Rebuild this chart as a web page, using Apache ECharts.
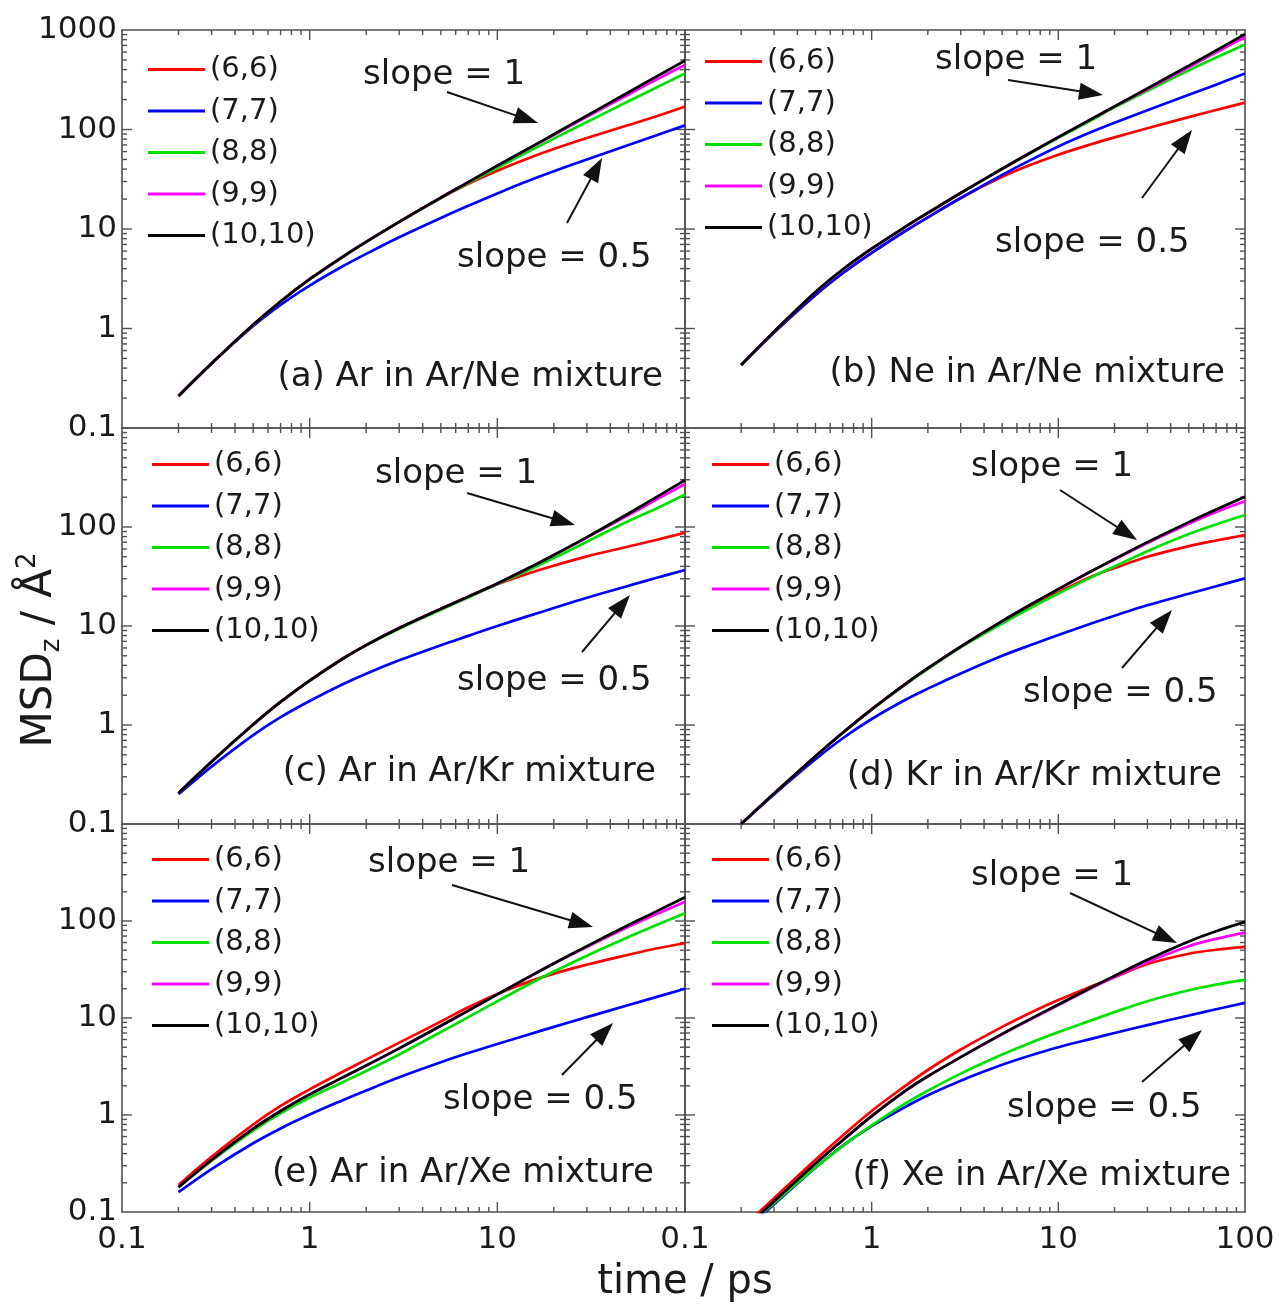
<!DOCTYPE html>
<html><head><meta charset="utf-8">
<script src="https://cdn.jsdelivr.net/npm/echarts@6/dist/echarts.min.js"></script>
<style>html,body{margin:0;padding:0;background:#fff}#c{width:1279px;height:1307px}</style>
</head><body><div id="c"></div>
<script>
// ---- data ----
const time = [0.2,0.3,0.5,0.7,1,1.5,2,3,5,7,10,15,20,30,50,70,100];
const seriesNames = ['(6,6)','(7,7)','(8,8)','(9,9)','(10,10)'];
const seriesColors = ['#ff0000','#0000ff','#00e000','#ff00ff','#000000'];

// (a) Ar in Ar/Ne
const a66   = [0.21,0.445,1.09,1.87,3.13,5.26,7.43,11.8,20.5,28.5,38.6,52.4,63.7,82,111,135,170];
const a77   = [0.21,0.445,1.06,1.73,2.70,4.22,5.62,8.26,12.9,17.1,22.8,31,38,50,70,87,110];
const a88   = [0.21,0.445,1.09,1.87,3.13,5.26,7.43,11.8,20.5,28.9,41.3,61.4,80.9,119,192,263,365];
const a99   = [0.21,0.445,1.09,1.87,3.13,5.26,7.43,11.8,20.7,29.6,43.3,65.5,88,134,225,315,446];
const a1010 = [0.21,0.445,1.09,1.87,3.13,5.26,7.43,11.8,20.7,29.6,43.3,66.2,89.5,138,237,338,493];
// (b) Ne in Ar/Ne
const b66   = [0.43,0.91,2.17,3.59,5.75,9.44,13.1,20.5,33.4,43.7,55.8,71.1,83.3,103,133,157,186];
const b77   = [0.43,0.91,2.17,3.59,5.75,9.44,13.1,20.5,35,48.7,67.6,94.3,117,156,223,282,365];
const b88   = [0.43,0.93,2.33,3.92,6.34,10.4,14.5,23.0,40,57,82.5,124,167,245,393,528,714];
const b99   = [0.43,0.93,2.33,3.92,6.34,10.4,14.5,23.0,40.3,57.7,83.9,127,170,254,422,595,850];
const b1010 = [0.43,0.93,2.33,3.92,6.34,10.4,14.5,23.0,40.3,57.7,83.9,127,171,259,438,622,910];
// (c) Ar in Ar/Kr
const c66   = [0.205,0.426,1.01,1.71,2.81,4.67,6.41,9.53,14.9,19.8,26.4,34.5,40.7,50.5,63.5,74,87.5];
const c77   = [0.2,0.38,0.79,1.2,1.75,2.58,3.3,4.5,6.4,7.95,10,12.8,15.2,19.3,25.5,30.5,36.8];
const c88   = [0.205,0.426,1.01,1.71,2.81,4.67,6.38,9.4,14.6,19.4,26.5,37.5,48.5,71,115,153,213];
const c99   = [0.205,0.426,1.01,1.71,2.81,4.67,6.41,9.53,14.9,19.8,26.9,39.3,52.1,78,132,188,272];
const c1010 = [0.205,0.426,1.01,1.71,2.81,4.67,6.41,9.53,14.9,19.8,26.9,39.3,52.1,79,137,199,297];
// (d) Kr in Ar/Kr
const d66   = [0.1,0.203,0.484,0.835,1.44,2.56,3.72,6.15,10.9,15.6,22,31.5,38.5,50,64,73,83];
const d77   = [0.1,0.199,0.451,0.735,1.15,1.78,2.33,3.32,5.0,6.36,8.1,10.6,12.7,16.2,21.2,25.2,30.3];
const d88   = [0.1,0.203,0.484,0.835,1.43,2.52,3.68,6.1,10.6,15,21.3,31,40,57,85,106,132];
const d99   = [0.1,0.203,0.484,0.835,1.44,2.56,3.75,6.2,11.2,16.2,23.6,35.7,47,69,108,142,182];
const d1010 = [0.1,0.203,0.484,0.835,1.44,2.56,3.75,6.2,11.2,16.2,23.6,35.7,47.5,70.3,112,150,202];
// (e) Ar in Ar/Xe
const e66   = [0.19,0.371,0.798,1.24,1.84,2.79,3.72,5.57,9.19,12.9,17.7,24,28.7,35.5,44.9,52,59];
const e77   = [0.16,0.277,0.511,0.727,1.01,1.42,1.79,2.45,3.5,4.35,5.4,6.85,8.1,10.2,13.6,16.4,20];
const e88   = [0.18,0.337,0.69,1.04,1.51,2.18,2.84,4.21,7.17,10.2,14.9,22.7,30.1,43.9,68.4,90.4,120];
const e99   = [0.18,0.344,0.722,1.1,1.63,2.44,3.24,4.86,8.31,11.9,17.5,27,36.5,54,87,117,158];
const e1010 = [0.18,0.344,0.722,1.1,1.63,2.44,3.24,4.86,8.31,11.9,17.5,27,36.5,55.1,91,125,176];
// (f) Xe in Ar/Xe
const f66   = [0.067,0.139,0.345,0.614,1.1,1.97,2.91,4.73,8.09,11.2,15.3,21.2,26.4,36,46,50.5,54];
const f77   = [0.059,0.12,0.286,0.483,0.767,1.2,1.6,2.26,3.29,4.08,5.0,6.1,7.0,8.45,10.6,12.3,14.3];
const f88   = [0.061,0.124,0.288,0.478,0.78,1.3,1.78,2.67,4.2,5.5,7.15,9.45,11.5,14.9,19.3,22.1,24.7];
const f99   = [0.062,0.129,0.316,0.55,0.974,1.75,2.51,3.95,6.8,9.55,13.6,20.3,26.5,37.8,55,65.5,76];
const f1010 = [0.062,0.129,0.316,0.55,0.974,1.75,2.51,3.95,6.86,9.69,13.8,20.6,27.2,39.9,61.6,78.5,98];

const panelTitles = ['(a) Ar in Ar/Ne mixture','(b) Ne in Ar/Ne mixture','(c) Ar in Ar/Kr mixture',
                     '(d) Kr in Ar/Kr mixture','(e) Ar in Ar/Xe mixture','(f) Xe in Ar/Xe mixture'];
const panelData = [[a66,a77,a88,a99,a1010],[b66,b77,b88,b99,b1010],[c66,c77,c88,c99,c1010],
                   [d66,d77,d88,d99,d1010],[e66,e77,e88,e99,e1010],[f66,f77,f88,f99,f1010]];

// tick values
const xMajorInner = [1,10];
const yMajorInner = [1,10,100];
const xMinor = [0.2,0.3,0.4,0.5,0.6,0.7,0.8,0.9,2,3,4,5,6,7,8,9,20,30,40,50,60,70,80,90];
const yMinor = xMinor.concat([200,300,400,500,600,700,800,900]);
const yLabelsTop = [0.1,1,10,100,1000];
const yLabelsLow = [0.1,1,10,100];
const xLabelsLeft = [0.1,1,10];
const xLabelsRight = [0.1,1,10,100];

// ---- layout ----
const FONT = '"DejaVu Sans", sans-serif';
const AX = '#505050';
const TXT = '#1a1a1a';
const grids = [
  {left:122, top:30,  width:563, height:398},
  {left:685, top:30,  width:560, height:398},
  {left:122, top:428, width:563, height:396},
  {left:685, top:428, width:560, height:396},
  {left:122, top:824, width:563, height:388},
  {left:685, top:824, width:560, height:388}
];
const yLabelSets = [yLabelsTop, null, yLabelsLow, null, yLabelsLow, null];
const xLabelSets = [null, null, null, null, xLabelsLeft, xLabelsRight];
const fmt = v => String(+(+v).toPrecision(4));

// inward tick marks on all four sides, placed through the axes' own log scales
function tickMarks(params, api) {
  const ch = [];
  const seg = (x1, y1, x2, y2) => ch.push({type:'line', shape:{x1:x1, y1:y1, x2:x2, y2:y2},
    style:{stroke:AX, lineWidth:1.4}});
  const addX = (vals, len) => vals.forEach(v => {
    const b = api.coord([v, 0.1]), t = api.coord([v, 1000]);
    seg(b[0], b[1], b[0], b[1] - len); seg(t[0], t[1], t[0], t[1] + len);
  });
  const addY = (vals, len) => vals.forEach(v => {
    const l = api.coord([0.1, v]), r = api.coord([100, v]);
    seg(l[0], l[1], l[0] + len, l[1]); seg(r[0], r[1], r[0] - len, r[1]);
  });
  addX(xMajorInner, 10); addX(xMinor, 5);
  addY(yMajorInner, 10); addY(yMinor, 5);
  return {type:'group', children:ch};
}

const xAxis = [], yAxis = [], series = [];
grids.forEach((g, i) => {
  const mk = (dim, pos, labels) => {
    const ax = {
      type:'log', logBase:10, gridIndex:i, position:pos,
      min:0.1, max: dim === 'x' ? 100 : 1000,
      axisLine:{show:true, onZero:false, lineStyle:{color:AX, width:1.6}},
      axisTick:{show:false},
      splitLine:{show:false}, minorTick:{show:false}, minorSplitLine:{show:false},
      axisLabel:{show:false}
    };
    if (labels) {
      ax.axisLabel = {show:true, customValues:labels, formatter:fmt, color:TXT,
        fontFamily:FONT, fontSize:31, margin: dim === 'x' ? 12 : 5};
    }
    return ax;
  };
  xAxis.push(mk('x','bottom',xLabelSets[i]), mk('x','top',null));
  yAxis.push(mk('y','left',yLabelSets[i]), mk('y','right',null));
  series.push({type:'custom', xAxisIndex:i*2, yAxisIndex:i*2, data:[[1, 1]],
    renderItem:tickMarks, silent:true, clip:false, z:1});
  panelData[i].forEach((vals, k) => {
    series.push({
      type:'line', name:seriesNames[k], xAxisIndex:i*2, yAxisIndex:i*2,
      data: time.map((t, j) => [t, vals[j]]),
      showSymbol:false, symbol:'none', smooth:0.35, clip:true, silent:true,
      lineStyle:{color:seriesColors[k], width:2.7}, itemStyle:{color:seriesColors[k]},
      z: 2 + k
    });
  });
});

// legends
const legendPos = [[148,55],[705,47],[152,450],[712,450],[152,845],[712,845]];
const legend = legendPos.map(p => ({
  left:p[0], top:p[1], orient:'vertical', padding:0, itemWidth:57, itemHeight:3, itemGap:12.5,
  icon:'rect', selectedMode:false, data:seriesNames,
  textStyle:{fontFamily:FONT, fontSize:29, lineHeight:29, color:TXT}
}));

// annotations (pixel positions)
const graphic = [];
function text(str, x, y, size, align) {
  graphic.push({type:'text', x:x, y:y, silent:true, style:{text:str, font: size + 'px ' + FONT, fill:TXT,
    align:align, verticalAlign:'middle', textAlign:align, textVerticalAlign:'middle'}});
}
function arrow(x1, y1, x2, y2) {
  const dx = x2 - x1, dy = y2 - y1, L = Math.hypot(dx, dy), ux = dx / L, uy = dy / L;
  const hl = 24, hw = 8.5, bx = x2 - ux * hl, by = y2 - uy * hl;
  graphic.push({type:'line', silent:true, shape:{x1:x1, y1:y1, x2:bx + ux * 2, y2:by + uy * 2},
    style:{stroke:'#111', lineWidth:2}});
  graphic.push({type:'polygon', silent:true,
    shape:{points:[[x2, y2], [bx - uy * hw, by + ux * hw], [bx + uy * hw, by - ux * hw]]},
    style:{fill:'#111'}});
}
const titleAnchors = [[663,377],[1225,373],[656,772],[1222,776],[654,1173],[1231,1176]];
titleAnchors.forEach((p, i) => text(panelTitles[i], p[0], p[1], 34, 'right'));
const slope1 = [[363,75],[935,60],[375,474],[971,467],[368,863],[971,876]];
const slope05 = [[457,258],[995,243],[457,681],[1023,693],[443,1100],[1007,1108]];
slope1.forEach(p => text('slope = 1', p[0], p[1], 34, 'left'));
slope05.forEach(p => text('slope = 0.5', p[0], p[1], 34, 'left'));
const arrows1 = [[447,92,538,123],[1008,80,1103,95],[467,493,575,525],[1060,490,1137,540],[452,885,593,927],[1070,893,1177,943]];
const arrows05 = [[567,223,602,158],[1142,198,1192,130],[582,652,630,595],[1122,668,1172,610],[562,1075,613,1023],[1142,1082,1202,1030]];
arrows1.concat(arrows05).forEach(a => arrow(a[0], a[1], a[2], a[3]));

text('time / ps', 685, 1283, 40, 'center');
graphic.push({type:'text', x:40, y:650, rotation:Math.PI / 2, silent:true, style:{
  text:'{m|MSD}{s|z}{m| / Å}{p|2}', align:'center', verticalAlign:'middle',
  textAlign:'center', textVerticalAlign:'middle',
  rich:{
    m:{fontFamily:FONT, fontSize:42, lineHeight:50, fill:TXT, color:TXT},
    s:{fontFamily:FONT, fontSize:26, lineHeight:26, verticalAlign:'bottom', fill:TXT, color:TXT},
    p:{fontFamily:FONT, fontSize:26, lineHeight:26, verticalAlign:'top', fill:TXT, color:TXT}
  }}});

const chart = echarts.init(document.getElementById('c'), null, {renderer:'canvas'});
chart.setOption({
  animation:false, backgroundColor:'#ffffff',
  grid: grids.map(g => Object.assign({containLabel:false}, g)),
  xAxis:xAxis, yAxis:yAxis, series:series, legend:legend, graphic:graphic
});
</script></body></html>
